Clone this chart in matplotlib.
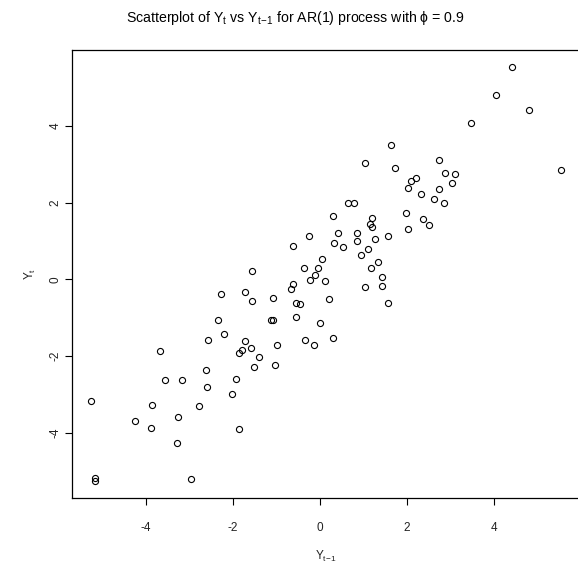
import matplotlib
matplotlib.use("Agg")
import matplotlib.pyplot as plt
import numpy as np

plt.rcParams['font.family'] = ['Liberation Sans', 'DejaVu Sans']
plt.rcParams['mathtext.fontset'] = 'custom'
plt.rcParams['mathtext.rm'] = 'Liberation Sans'
plt.rcParams['mathtext.it'] = 'Liberation Sans'
plt.rcParams['axes.unicode_minus'] = False

# Y_{t-1} (eje x) y Y_t (eje y)
y_lag = [4.42, 4.06, 4.81, 3.49, 5.55, 2.74, 2.88, 3.11, 3.05, 2.75,
         1.65, 1.03, 1.73, 2.10, 2.21, 2.02, 2.34, 2.63, 2.85, 1.98,
         2.38, 2.52, 2.02, 1.20, 1.15, 1.20, 1.28, 1.56, 1.12, 0.95,
         0.86, 0.86, 0.64, 0.78, 0.31, -0.25, 0.42, 0.33, 0.53, -0.62,
         0.05, -0.36, -0.05, -0.12, -0.23, 0.11, -0.62, -0.65, 1.18, 1.34,
         1.43, 1.43, 1.04, 1.56, 0.22, -0.54, -0.46, -0.54, 0.00, -0.34,
         -0.14, 0.30, -1.57, -2.27, -1.71, -1.57, -1.07, -1.13, -1.07, -2.35,
         -2.21, -1.73, -1.79, -1.85, -1.59, -0.98, -1.40, -2.58, -1.51, -1.03,
         -3.67, -2.62, -3.55, -3.16, -2.60, -1.93, -2.01, -3.86, -2.77, -3.25,
         -3.89, -1.85, -5.26, -4.25, -3.28, -5.18, -5.18, -2.97]
y_t = [5.54, 4.81, 4.42, 4.07, 2.86, 3.11, 2.76, 2.74, 2.51, 2.35,
       3.50, 3.04, 2.89, 2.57, 2.63, 2.38, 2.23, 2.10, 2.00, 1.74,
       1.56, 1.42, 1.30, 1.59, 1.43, 1.36, 1.04, 1.14, 0.79, 0.63,
       1.20, 1.01, 1.99, 1.99, 1.65, 1.14, 1.20, 0.95, 0.85, 0.88,
       0.54, 0.30, 0.30, 0.12, -0.01, -0.04, -0.11, -0.26, 0.30, 0.44,
       0.05, -0.17, -0.20, -0.62, -0.52, -0.62, -0.65, -0.99, -1.13, -1.57,
       -1.72, -1.52, 0.21, -0.37, -0.33, -0.56, -0.48, -1.06, -1.06, -1.07,
       -1.42, -1.60, -1.85, -1.92, -1.80, -1.70, -2.02, -1.57, -2.27, -2.22,
       -1.86, -2.37, -2.62, -2.62, -2.79, -2.59, -2.98, -3.26, -3.30, -3.58,
       -3.87, -3.89, -3.17, -3.68, -4.25, -5.18, -5.26, -5.21]
ticks = [-4, -2, 0, 2, 4]

fig = plt.figure(figsize=(5.78, 5.63), dpi=100)
ax = fig.add_axes([0.1251, 0.1155, 0.8780, 0.7957])

ax.plot(y_lag, y_t, linestyle='none', marker='o', ms=4.4,
        mfc='none', mec='black', mew=0.8)

# rango como en R: 4% extra a cada lado
def rango(v):
    lo, hi = min(v), max(v)
    d = (hi - lo) * 0.04
    return lo - d, hi + d

ax.set_xlim(*rango(y_lag))
ax.set_ylim(*rango(y_t))
ax.set_xticks(ticks)
ax.set_yticks(ticks)
ax.tick_params(axis='both', direction='out', length=5, width=0.8,
               labelsize=8.5, labelcolor='#222222')
ax.tick_params(axis='x', pad=12)
ax.tick_params(axis='y', pad=3)
for lbl in ax.get_yticklabels():
    lbl.set_rotation(90)
    lbl.set_va('center')
for s in ax.spines.values():
    s.set_linewidth(0.9)

ax.set_xlabel(r'$\mathrm{Y_{t\!-\!1}}$', fontsize=8.5, color='#222222', labelpad=11)
ax.set_ylabel(r'$\mathrm{Y_t}$', fontsize=8.5, color='#222222', labelpad=8)

fig.text(0.218, 0.968,
         r'Scatterplot of $\mathrm{Y_t}$ vs $\mathrm{Y_{t\!-\!1}}$ for AR(1) process with $\phi$ = 0.9',
         ha='left', va='center', fontsize=10.2)

fig.savefig('out.png', dpi=100)
